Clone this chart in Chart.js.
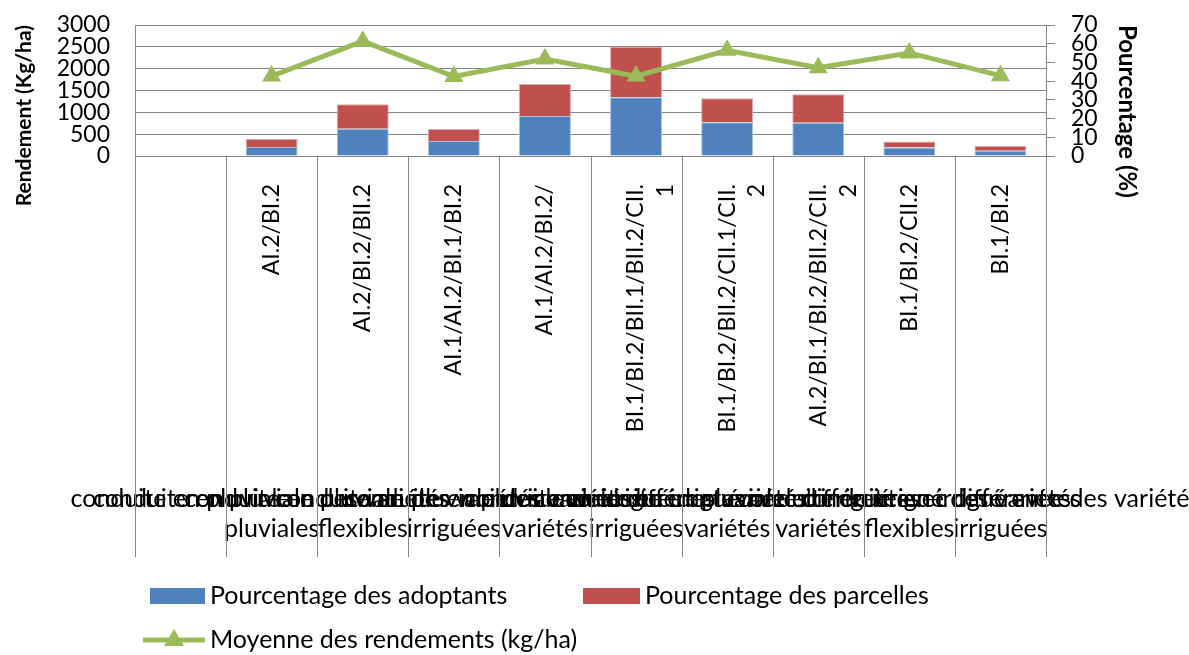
<!DOCTYPE html>
<html>
<head>
<meta charset="utf-8">
<script src="https://cdn.jsdelivr.net/npm/chart.js@4"></script>
<style>
	body { margin: 0; background: #fff; }
	#box { width: 1189px; height: 655px; }
</style>
</head>
<body>
<div id="box"><canvas id="myChart"></canvas></div>
<script>
// données
const categories = ["", "AI.2/BI.2", "AI.2/BI.2/BII.2", "AI.1/AI.2/BI.1/BI.2", "AI.1/AI.2/BI.2/",
	["BI.1/BI.2/BII.1/BII.2/CII.", "1"], ["BI.1/BI.2/BII.2/CII.1/CII.", "2"],
	["AI.2/BI.1/BI.2/BII.2/CII.", "2"], "BI.1/BI.2/CII.2", "BI.1/BI.2"];

const groups = [
	["conduite en pluviale"],
	["conduite en pluviale des variétés", "pluviales"],
	["conduite en pluviale des variétés", "flexibles"],
	["conduite en pluviale des variétés", "irriguées"],
	["conduite en pluviale avec différentes", "variétés"],
	["conduite en irrigué des variétés", "irriguées"],
	["conduite en irrigué avec différentes", "variétés"],
	["conduite en pluviale et irrigué avec différentes", "variétés"],
	["conduite en irrigué des variétés", "flexibles"],
	["conduite en irrigué avec des variétés", "irriguées"]
];

const adoptants = [null, 4.8, 14.6, 8.0, 21.4, 31.4, 18.0, 17.8, 4.6, 2.8];
const parcelles = [null, 4.3, 13.0, 6.4, 17.1, 27.0, 12.8, 15.2, 3.2, 2.5];
const rendements = [null, 1830, 2630, 1820, 2220, 1830, 2420, 2020, 2360, 1840];

const yTicks = [0, 500, 1000, 1500, 2000, 2500, 3000];
const y1Ticks = [0, 10, 20, 30, 40, 50, 60, 70];

const grey = '#868686';
Chart.defaults.font.family = 'Lato';
Chart.defaults.color = '#000';

// traits verticaux entre les catégories (deux niveaux)
const dividers = {
	id: 'dividers',
	afterDraw(chart) {
		const x = chart.scales.x;
		const x2 = chart.scales.x2;
		const c = chart.ctx;
		const n = categories.length;
		c.save();
		c.strokeStyle = grey;
		c.lineWidth = 1;
		for (let i = 0; i <= n; i++) {
			let px = Math.round(x.left + x.width * i / n) + 0.5;
			c.beginPath();
			c.moveTo(px, x.top);
			c.lineTo(px, x2.bottom);
			c.stroke();
		}
		c.restore();
	}
};

// légende en bas, à gauche
const legendBas = {
	id: 'legendBas',
	afterDraw(chart) {
		const c = chart.ctx;
		const ds = chart.data.datasets;
		c.save();
		c.font = '25px Lato';
		c.textBaseline = 'middle';
		c.fillStyle = ds[0].backgroundColor;
		c.fillRect(150, 588, 55, 16);
		c.fillStyle = ds[1].backgroundColor;
		c.fillRect(583, 588, 57, 16);
		c.fillStyle = '#000';
		c.fillText(ds[0].label, 210, 596);
		c.fillText(ds[1].label, 645, 596);

		c.strokeStyle = ds[2].borderColor;
		c.lineWidth = 5;
		c.beginPath();
		c.moveTo(143, 640);
		c.lineTo(205, 640);
		c.stroke();
		c.fillStyle = ds[2].borderColor;
		c.beginPath();
		c.moveTo(174, 629);
		c.lineTo(184, 646);
		c.lineTo(164, 646);
		c.closePath();
		c.fill();
		c.fillStyle = '#000';
		c.fillText(ds[2].label, 210, 640);
		c.restore();
	}
};

const ctx = document.getElementById('myChart');

new Chart(ctx, {
	data: {
		labels: categories,
		datasets: [
			{
				type: 'bar',
				label: 'Pourcentage des adoptants',
				data: adoptants,
				backgroundColor: '#4F81BD',
				borderColor: '#A7C0DE',
				borderWidth: 1,
				yAxisID: 'y1',
				order: 1,
				barPercentage: 0.57,
				categoryPercentage: 1
			},
			{
				type: 'bar',
				label: 'Pourcentage des parcelles',
				data: parcelles,
				backgroundColor: '#C0504D',
				borderColor: '#DFA7A6',
				borderWidth: 1,
				yAxisID: 'y1',
				order: 1,
				barPercentage: 0.57,
				categoryPercentage: 1
			},
			{
				type: 'line',
				label: 'Moyenne des rendements (kg/ha)',
				data: rendements,
				borderColor: '#9BBB59',
				backgroundColor: '#9BBB59',
				borderWidth: 5,
				pointStyle: 'triangle',
				pointRadius: 11,
				pointBorderWidth: 0,
				pointBackgroundColor: '#9BBB59',
				yAxisID: 'y',
				order: 0
			}
		]
	},
	options: {
		responsive: true,
		maintainAspectRatio: false,
		animation: false,
		layout: { padding: { top: 25, bottom: 98, left: 0, right: 0 } },
		plugins: {
			legend: { display: false },
			tooltip: { enabled: false }
		},
		scales: {
			x: {
				stacked: true,
				offset: true,
				grid: { display: false },
				border: { display: true, color: grey },
				ticks: {
					autoSkip: false,
					minRotation: 90,
					maxRotation: 90,
					padding: 20,
					font: { size: 23, lineHeight: 1.3 }
				},
				afterFit(s) { s.height = 296; s.paddingLeft = 0; s.paddingRight = 0; }
			},
			x2: {
				type: 'category',
				labels: groups,
				position: 'bottom',
				offset: true,
				grid: { display: false },
				border: { display: false },
				ticks: {
					autoSkip: false,
					minRotation: 0,
					maxRotation: 0,
					padding: 24,
					font: { size: 25, lineHeight: 1.2 }
				},
				afterFit(s) { s.height = 105; s.paddingLeft = 0; s.paddingRight = 0; }
			},
			y: {
				position: 'left',
				min: 0,
				max: 3000,
				afterBuildTicks(s) { s.ticks = yTicks.map(v => ({ value: v })); },
				grid: { color: grey, drawTicks: false },
				border: { color: grey },
				ticks: {
					autoSkip: false,
					padding: 25,
					font: { size: 23 },
					callback: v => String(v)
				},
				title: {
					display: true,
					text: 'Rendement (Kg/ha)',
					align: 'end',
					font: { size: 21, weight: 'bold' },
					padding: { top: 12, bottom: 0 }
				},
				afterFit(s) { s.width = 135; s.paddingTop = 0; s.paddingBottom = 0; }
			},
			y1: {
				position: 'right',
				stacked: true,
				min: 0,
				max: 70,
				afterBuildTicks(s) { s.ticks = y1Ticks.map(v => ({ value: v })); },
				grid: { drawOnChartArea: false, color: grey, tickLength: 9 },
				border: { color: grey },
				ticks: {
					autoSkip: false,
					padding: 16,
					font: { size: 23 },
					callback: v => String(v)
				},
				title: {
					display: true,
					text: 'Pourcentage (%)',
					align: 'end',
					font: { size: 24, weight: 'bold' },
					padding: { top: 48, bottom: 0 }
				},
				afterFit(s) { s.width = 143; s.paddingTop = 0; s.paddingBottom = 0; }
			}
		}
	},
	plugins: [dividers, legendBas]
});
</script>
</body>
</html>
